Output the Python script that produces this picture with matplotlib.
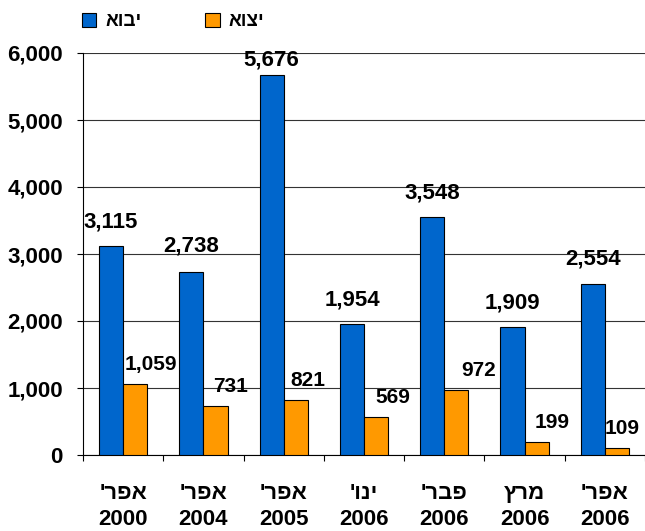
import numpy as np
import matplotlib
matplotlib.use("Agg")
import matplotlib.pyplot as plt
from matplotlib.patches import Patch
from matplotlib.ticker import FuncFormatter

plt.rcParams["font.family"] = ["Liberation Sans", "DejaVu Sans"]
plt.rcParams["font.weight"] = "bold"

# data (Hebrew stored in logical order, reversed for display since matplotlib has no bidi)
months = ["אפר'", "אפר'", "אפר'", "ינו'", "פבר'", "מרץ", "אפר'"]
years = ["2000", "2004", "2005", "2006", "2006", "2006", "2006"]
imports = [3115, 2738, 5676, 1954, 3548, 1909, 2554]
exports = [1059, 731, 821, 569, 972, 199, 109]
series_names = ["יבוא", "יצוא"]

# label offsets (points) as placed in the original
imp_dy = [10, 11, 3, 10, 10, 10, 10]
exp_dx = [11, 11, 9, 12, 16, 11, 4]

BLUE = "#0066CC"
ORANGE = "#FF9900"
W = 0.3

def rtl(s):
    return s[::-1]

fig = plt.figure(figsize=(6.45, 5.31), dpi=100)
ax = fig.add_axes([83 / 645, 1 - 455 / 531, 1 - 83 / 645, (455 - 53) / 531])

x = np.arange(len(imports))
ax.bar(x - W / 2, imports, W, color=BLUE, edgecolor="black", linewidth=0.8, zorder=3)
ax.bar(x + W / 2, exports, W, color=ORANGE, edgecolor="black", linewidth=0.8, zorder=3)

for i, v in enumerate(imports):
    ax.annotate(f"{v:,}", (x[i] - W / 2, v), xytext=(0, imp_dy[i]), textcoords="offset points",
                ha="center", va="bottom", fontsize=16, fontweight="bold")
for i, v in enumerate(exports):
    ax.annotate(f"{v:,}", (x[i] + W / 2, v), xytext=(exp_dx[i], 7), textcoords="offset points",
                ha="center", va="bottom", fontsize=15, fontweight="bold")

ax.set_ylim(0, 6000)
ax.set_xlim(-0.5, len(imports) - 0.5)
ax.set_yticks(np.arange(0, 6001, 1000))
ax.yaxis.set_major_formatter(FuncFormatter(lambda v, p: f"{int(v):,}"))
ax.tick_params(axis="y", length=4.5, width=0.8, pad=10, labelsize=16)
ax.grid(axis="y", color="#333333", linewidth=0.8, zorder=0)

ax.set_xticks(x)
ax.set_xticklabels([f"{rtl(m)}\n{y}" for m, y in zip(months, years)], fontsize=16,
                   fontweight="bold", linespacing=1.3)
ax.tick_params(axis="x", which="major", length=0, pad=20)
ax.set_xticks(np.arange(-0.5, len(imports)), minor=True)
ax.tick_params(axis="x", which="minor", length=4.5, width=0.8)

for s in ["top", "right"]:
    ax.spines[s].set_visible(False)
for s in ["left", "bottom"]:
    ax.spines[s].set_linewidth(0.8)

handles = [Patch(facecolor=BLUE, edgecolor="black", linewidth=0.8),
           Patch(facecolor=ORANGE, edgecolor="black", linewidth=0.8)]
fig.legend(handles, [rtl(n) for n in series_names], loc="upper left",
           bbox_to_anchor=(82 / 645, 1 - 13 / 531), ncol=2, frameon=False,
           prop={"size": 13.5, "weight": "bold"}, handlelength=0.75, handleheight=0.75,
           handletextpad=0.5, columnspacing=3.4, borderpad=0, borderaxespad=0)

fig.savefig("out.png", dpi=100)
